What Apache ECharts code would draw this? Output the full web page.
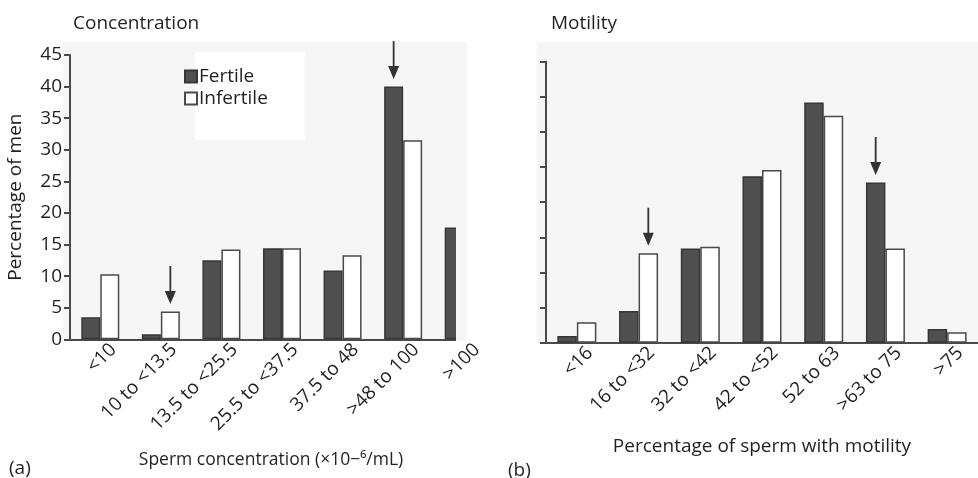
<!DOCTYPE html>
<html>
<head>
<meta charset="utf-8">
<script src="https://cdn.jsdelivr.net/npm/echarts@6/dist/echarts.min.js"></script>
<style>html,body{margin:0;padding:0;background:#fff;}#c{width:978px;height:478px;}</style>
</head>
<body>
<div id="c"></div>
<script>
// ---- data ----
const concCats = ['<10', '10 to <13.5', '13.5 to <25.5', '25.5 to <37.5', '37.5 to 48', '>48 to 100', '>100'];
const concFertile = [3.5, 0.8, 12.5, 14.4, 10.9, 40.0, 17.7];
const concInfertile = [10.3, 4.4, 14.2, 14.4, 13.3, 31.5, null];
const concTicks = [0, 5, 10, 15, 20, 25, 30, 35, 40, 45];

const motCats = ['<16', '16 to <32', '32 to <42', '42 to <52', '52 to 63', '>63 to 75', '>75'];
const motFertile = [0.95, 4.5, 13.4, 23.7, 34.2, 22.8, 1.95];
const motInfertile = [2.9, 12.75, 13.65, 24.6, 32.3, 13.4, 1.5];

const seriesNames = ['Fertile', 'Infertile'];
const panelTitles = ['Concentration', 'Motility'];
const panelTags = ['(a)', '(b)'];
const yTitle = 'Percentage of men';
const xTitles = ['Sperm concentration (\u00d710\u2212\u2076/mL)', 'Percentage of sperm with motility'];

// ---- styles ----
const FONT = 'Open Sans';
const TXT = '#231f20';
const AX = '#4a4a4a';
const FS = 19;
const fertStyle = { color: '#505050', borderColor: '#363636', borderWidth: 1.5 };
const infStyle = { color: '#ffffff', borderColor: '#4a4a4a', borderWidth: 1.5 };
const ARROW = 'path://M4.6,0 L6.4,0 L6.4,25 L11,25 L5.5,38 L0,25 L4.6,25 Z';

function arrowMP(cat, val) {
  return {
    symbol: ARROW, symbolSize: [11, 38], symbolOffset: [0, -26.5],
    itemStyle: { color: '#333' }, label: { show: false },
    data: [{ coord: [cat, val] }]
  };
}

const chart = echarts.init(document.getElementById('c'), null, { renderer: 'canvas' });

const titleStyle = { fontFamily: FONT, fontSize: FS, fontWeight: 'normal', color: TXT };

const catAxisBase = {
  type: 'category',
  axisLine: { lineStyle: { color: AX, width: 2 } },
  axisTick: { show: false },
  axisLabel: { interval: 0, rotate: 45, margin: 7, verticalAlign: 'top', padding: [0, -9, 0, 0],
    fontFamily: FONT, fontSize: FS, color: TXT },
  nameLocation: 'middle',
  nameTextStyle: { fontFamily: FONT, fontSize: FS, color: TXT }
};

const option = {
  backgroundColor: '#ffffff',
  animation: false,
  textStyle: { fontFamily: FONT },
  title: [
    { text: panelTitles[0], left: 68, top: 9, textStyle: titleStyle },
    { text: panelTitles[1], left: 546, top: 9, textStyle: titleStyle },
    { text: panelTags[0], left: 4, top: 454, textStyle: titleStyle },
    { text: panelTags[1], left: 503, top: 456, textStyle: titleStyle }
  ],
  legend: {
    data: seriesNames,
    orient: 'vertical',
    left: 179, top: 62,
    itemWidth: 12, itemHeight: 12, itemGap: 3,
    icon: 'rect',
    textStyle: { fontFamily: FONT, fontSize: FS, color: TXT, padding: [0, 0, 0, -3] },
    selectedMode: false
  },
  grid: [
    { left: 70, right: 484, top: 55, bottom: 138.7 },
    { left: 546, right: -2, top: 61.7, bottom: 135.3 }
  ],
  xAxis: [
    Object.assign({}, catAxisBase, { gridIndex: 0, data: concCats, name: xTitles[0], nameGap: 112,
      nameTextStyle: { fontFamily: FONT, fontSize: 17.5, color: TXT, padding: [0, 22, 0, 0] } }),
    Object.assign({}, catAxisBase, { gridIndex: 1, data: motCats, name: xTitles[1], nameGap: 94 })
  ],
  yAxis: [
    { type: 'value', gridIndex: 0, min: concTicks[0], max: concTicks[concTicks.length - 1], interval: 5,
      splitLine: { show: false },
      axisLine: { show: true, lineStyle: { color: AX, width: 2 } },
      axisTick: { show: true, length: 6, lineStyle: { color: AX, width: 2 } },
      axisLabel: { margin: 8, fontFamily: FONT, fontSize: FS, color: TXT },
      name: yTitle, nameLocation: 'middle', nameGap: 45,
      nameTextStyle: { fontFamily: FONT, fontSize: FS, color: TXT } },
    { type: 'value', gridIndex: 1, min: 0, max: 40, interval: 5,
      splitLine: { show: false },
      axisLine: { show: true, lineStyle: { color: AX, width: 2 } },
      axisTick: { show: true, length: 6, lineStyle: { color: AX, width: 2 } },
      axisLabel: { show: false },
      name: yTitle, nameLocation: 'middle', nameGap: 26,
      nameTextStyle: { fontFamily: FONT, fontSize: FS, color: TXT, padding: [0, 0, 0, 14] } }
  ],
  series: [
    { name: seriesNames[0], type: 'bar', xAxisIndex: 0, yAxisIndex: 0, data: concFertile,
      barWidth: 19, barGap: '0%', itemStyle: fertStyle,
      markPoint: arrowMP(concCats[5], concFertile[5]) },
    { name: seriesNames[1], type: 'bar', xAxisIndex: 0, yAxisIndex: 0, data: concInfertile,
      barWidth: 19, barGap: '0%', itemStyle: infStyle,
      markPoint: arrowMP(concCats[1], concInfertile[1]) },
    { name: seriesNames[0], type: 'bar', xAxisIndex: 1, yAxisIndex: 1, data: motFertile,
      barWidth: 19.5, barGap: '0%', itemStyle: fertStyle,
      markPoint: arrowMP(motCats[5], motFertile[5]) },
    { name: seriesNames[1], type: 'bar', xAxisIndex: 1, yAxisIndex: 1, data: motInfertile,
      barWidth: 19.5, barGap: '0%', itemStyle: infStyle,
      markPoint: arrowMP(motCats[1], motInfertile[1]) }
  ],
  graphic: [
    { type: 'rect', z: -10, shape: { x: 63, y: 42, width: 404, height: 298 }, style: { fill: '#f6f6f6' } },
    { type: 'rect', z: -10, shape: { x: 537, y: 42, width: 441, height: 301 }, style: { fill: '#f6f6f6' } },
    { type: 'rect', z: -9, shape: { x: 195, y: 52, width: 110, height: 88 }, style: { fill: '#ffffff' } },
    // crop of the original figure at the right edge of panel (a)
    { type: 'rect', z: 100, shape: { x: 456, y: 42, width: 11, height: 299 }, style: { fill: '#f6f6f6' } },
    { type: 'rect', z: 100, shape: { x: 467, y: 30, width: 69, height: 311 }, style: { fill: '#ffffff' } }
  ]
};

chart.setOption(option);
</script>
</body>
</html>
